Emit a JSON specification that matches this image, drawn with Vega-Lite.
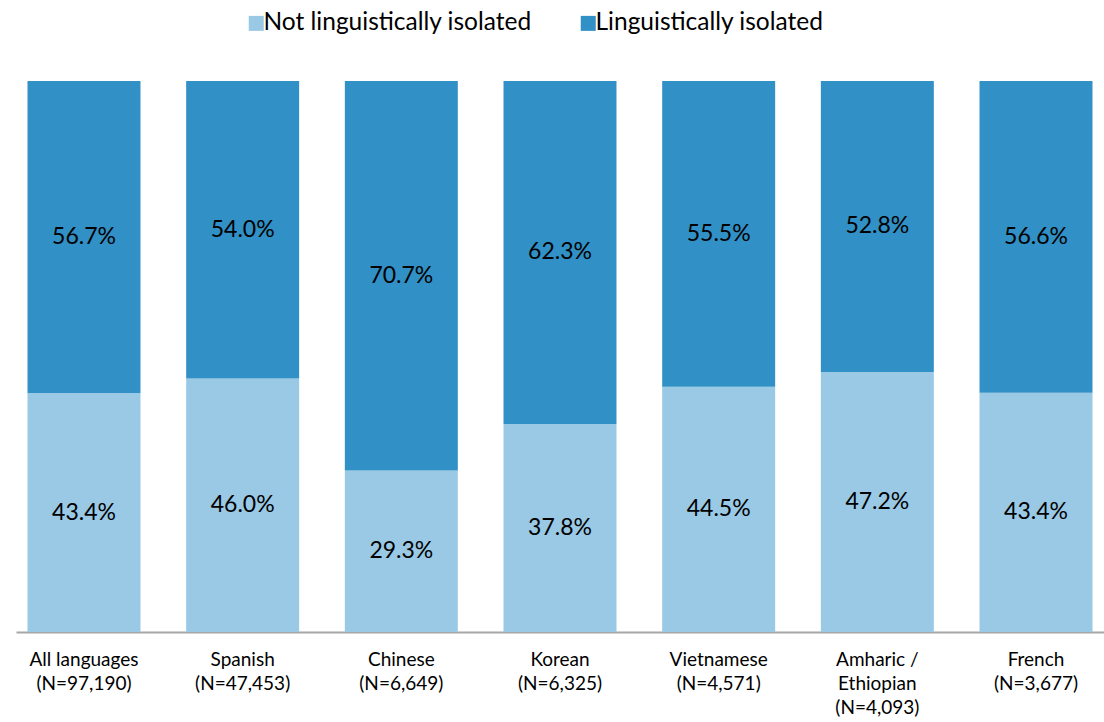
{
  "$schema": "https://vega.github.io/schema/vega-lite/v6.json",
  "autosize": "none",
  "width": 1088,
  "height": 551,
  "padding": {"left": 16, "top": 81, "right": 0, "bottom": 90},
  "background": "white",
  "config": {
    "view": {"stroke": null},
    "font": "Lato"
  },
  "data": {
    "values": [
      {"lang": "All languages|(N=97,190)", "status": "Not linguistically isolated", "order": 1, "value": 0.434},
      {"lang": "All languages|(N=97,190)", "status": "Linguistically isolated", "order": 2, "value": 0.567},
      {"lang": "Spanish|(N=47,453)", "status": "Not linguistically isolated", "order": 1, "value": 0.460},
      {"lang": "Spanish|(N=47,453)", "status": "Linguistically isolated", "order": 2, "value": 0.540},
      {"lang": "Chinese|(N=6,649)", "status": "Not linguistically isolated", "order": 1, "value": 0.293},
      {"lang": "Chinese|(N=6,649)", "status": "Linguistically isolated", "order": 2, "value": 0.707},
      {"lang": "Korean|(N=6,325)", "status": "Not linguistically isolated", "order": 1, "value": 0.378},
      {"lang": "Korean|(N=6,325)", "status": "Linguistically isolated", "order": 2, "value": 0.623},
      {"lang": "Vietnamese|(N=4,571)", "status": "Not linguistically isolated", "order": 1, "value": 0.445},
      {"lang": "Vietnamese|(N=4,571)", "status": "Linguistically isolated", "order": 2, "value": 0.555},
      {"lang": "Amharic /|Ethiopian|(N=4,093)", "status": "Not linguistically isolated", "order": 1, "value": 0.472},
      {"lang": "Amharic /|Ethiopian|(N=4,093)", "status": "Linguistically isolated", "order": 2, "value": 0.528},
      {"lang": "French|(N=3,677)", "status": "Not linguistically isolated", "order": 1, "value": 0.434},
      {"lang": "French|(N=3,677)", "status": "Linguistically isolated", "order": 2, "value": 0.566}
    ]
  },
  "transform": [
    {"stack": "value", "groupby": ["lang"], "sort": [{"field": "order", "order": "ascending"}], "offset": "normalize", "as": ["y0", "y1"]}
  ],
  "encoding": {
    "x": {
      "field": "lang", "type": "nominal", "sort": null,
      "scale": {"paddingInner": 0.288, "paddingOuter": 0.0725},
      "axis": {
        "title": null, "labelAngle": 0, "ticks": false,
        "domainColor": "#a6a6a6", "domainWidth": 2,
        "labelExpr": "split(datum.label, '|')",
        "labelFontSize": 19, "labelColor": "#000000", "labelLineHeight": 24,
        "labelPadding": 18, "labelBaseline": "top"
      }
    }
  },
  "layer": [
    {
      "mark": {"type": "bar"},
      "encoding": {
        "y": {
          "field": "y0", "type": "quantitative",
          "scale": {"domain": [0, 1]},
          "axis": null
        },
        "y2": {"field": "y1"},
        "color": {
          "field": "status", "type": "nominal",
          "scale": {"domain": ["Not linguistically isolated", "Linguistically isolated"], "range": ["#99c9e5", "#3190c5"]},
          "legend": {
            "title": null, "orient": "none", "direction": "horizontal",
            "legendX": 228, "legendY": -70,
            "symbolType": "square", "symbolSize": 225, "symbolStrokeWidth": 0,
            "labelFontSize": 24.5, "labelColor": "#000000", "labelOffset": -5, "labelLimit": 0,
            "columnPadding": 44
          }
        }
      }
    },
    {
      "mark": {"type": "text", "fontSize": 23, "color": "#000000", "baseline": "middle"},
      "encoding": {
        "y": {"value": {"expr": "scale('y', (datum.y0 + datum.y1) / 2)"}},
        "text": {"field": "value", "type": "quantitative", "format": ".1%"}
      }
    }
  ]
}
